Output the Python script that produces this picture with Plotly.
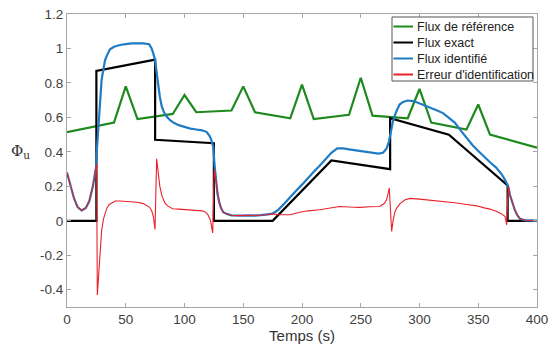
import plotly.graph_objects as go

# ---------------- data ----------------
green_t = [0, 40, 50, 60, 90, 100, 110, 140, 150, 160, 190, 200, 210, 240, 250, 260, 290, 300, 310, 340, 350, 360, 400]
green_v = [0.515, 0.57, 0.78, 0.59, 0.62, 0.73, 0.63, 0.64, 0.78, 0.63, 0.595, 0.79, 0.59, 0.615, 0.83, 0.61, 0.595, 0.765, 0.57, 0.53, 0.675, 0.50, 0.425]

black_t = [0, 25, 25, 75, 75, 125, 125, 175, 225, 275, 275, 325, 375, 375, 400]
black_v = [0, 0, 0.87, 0.935, 0.47, 0.45, 0, 0, 0.35, 0.30, 0.595, 0.50, 0.205, 0, 0]

blue_t = [0, 3, 6, 9, 12.5, 16, 19, 22, 24.7, 25.5, 26.6, 27.5, 28.5, 29.5, 31, 32.3, 34, 36.6, 40, 45, 50, 55,
          60, 65, 70, 72, 73.5, 75, 76.5, 77.7, 79, 80.6, 82.5, 84.8, 87.5, 90.5, 95, 100, 105, 110, 115, 119,
          121.5, 123, 124.5, 125.5, 126.5, 128, 129.5, 131, 133, 136, 140, 145, 150, 155, 160, 165, 170, 174,
          177, 180, 185, 190, 195, 200, 205, 210, 215, 220, 225, 230, 235, 240, 245, 250, 255, 260, 265, 269,
          272, 274, 275.5, 277.5, 280, 283, 286, 290, 295, 300, 305, 310, 315, 320, 325, 330, 335, 340, 345,
          350, 355, 360, 365, 370, 373, 375.5, 377, 379, 381, 383, 385.5, 390, 395, 400]
blue_v = [0.28, 0.2, 0.13, 0.08, 0.06, 0.075, 0.115, 0.2, 0.31, 0.42, 0.53, 0.66, 0.75, 0.82, 0.88, 0.93, 0.96, 0.995,
          1.01, 1.02, 1.025, 1.03, 1.03, 1.03, 1.025, 1.0, 0.97, 0.93, 0.85, 0.78, 0.72, 0.665, 0.63, 0.605, 0.585,
          0.57, 0.555, 0.545, 0.535, 0.53, 0.525, 0.515, 0.49, 0.465, 0.43, 0.33, 0.25, 0.16, 0.11, 0.075, 0.05,
          0.04, 0.032, 0.03, 0.03, 0.032, 0.03, 0.033, 0.035, 0.04, 0.05, 0.065, 0.1, 0.14, 0.175, 0.21, 0.25,
          0.285, 0.32, 0.36, 0.395, 0.42, 0.42, 0.415, 0.41, 0.405, 0.4, 0.395, 0.39, 0.395, 0.42, 0.46, 0.51,
          0.58, 0.63, 0.675, 0.69, 0.698, 0.695, 0.682, 0.67, 0.655, 0.64, 0.625, 0.6, 0.57, 0.525, 0.48, 0.44,
          0.405, 0.37, 0.34, 0.31, 0.27, 0.235, 0.2, 0.15, 0.1, 0.065, 0.035, 0.012, 0.003, 0, 0]

red_t = [0, 3, 6, 9, 12.5, 16, 19, 22, 24.7, 25.2, 25.8, 26.5, 27.5, 28.5, 29.5, 31, 32.5, 34, 36, 38, 41, 45, 50,
         55, 60, 65, 68, 70, 72, 73.5, 74.9, 75.5, 76.3, 77.5, 79, 81, 83.4, 86, 90, 95, 100, 105, 110, 115, 118,
         120, 122, 124, 125.3, 126.5, 128, 129.5, 131, 133, 136, 140, 145, 150, 155, 160, 165, 170, 175, 180, 190,
         198, 205, 215, 225, 232, 240, 249, 258, 266, 270, 272, 274.3, 275.2, 276.3, 277.5, 279, 280.6, 283.4,
         287.7, 292, 300, 310, 320, 330, 340, 348.7, 355, 360, 365.7, 370, 372.8, 374.2, 375.2, 375.6, 377, 379,
         381, 383, 385.5, 390, 395, 400]
red_v = [0.28, 0.2, 0.13, 0.08, 0.06, 0.075, 0.115, 0.2, 0.31, 0.33, -0.43, -0.35, -0.23, -0.13, -0.055, 0.01, 0.05,
         0.075, 0.095, 0.105, 0.115, 0.115, 0.112, 0.11, 0.108, 0.1, 0.09, 0.08, 0.06, 0.025, -0.05, 0.1, 0.36,
         0.29, 0.2, 0.14, 0.103, 0.085, 0.07, 0.068, 0.065, 0.065, 0.063, 0.058, 0.05, 0.035, 0.005, -0.07, 0.3,
         0.24, 0.16, 0.11, 0.075, 0.05, 0.04, 0.032, 0.03, 0.03, 0.032, 0.03, 0.033, 0.035, 0.04, 0.035, 0.035,
         0.05, 0.058, 0.064, 0.075, 0.083, 0.08, 0.078, 0.082, 0.083, 0.1, 0.122, 0.19, 0.05, -0.062, 0.0, 0.05,
         0.074, 0.1, 0.122, 0.13, 0.126, 0.12, 0.112, 0.105, 0.095, 0.087, 0.075, 0.068, 0.054, 0.04, 0.025,
         -0.023, 0.15, 0.2, 0.15, 0.1, 0.065, 0.035, 0.012, 0.003, 0, 0]

series_names = ["Flux de référence", "Flux exact", "Flux identifié", "Erreur d'identification"]
series_colors = ["#1e8a1e", "#000000", "#1f7cc4", "#e8212a"]
series_widths = [2.2, 2.2, 2.2, 1.1]

x_ticks = [0, 50, 100, 150, 200, 250, 300, 350, 400]
y_ticks = [-0.4, -0.2, 0, 0.2, 0.4, 0.6, 0.8, 1.0, 1.2]
y_tick_labels = ["-0.4", "-0.2", "0", "0.2", "0.4", "0.6", "0.8", "1", "1.2"]

# ---------------- figure ----------------
fig = go.Figure()
for (tx, vy), name, col, w in zip([(green_t, green_v), (black_t, black_v), (blue_t, blue_v), (red_t, red_v)],
                                  series_names, series_colors, series_widths):
    fig.add_trace(go.Scatter(x=tx, y=vy, mode="lines", name=name, showlegend=False,
                             line=dict(color=col, width=w)))

axis_common = dict(showgrid=False, zeroline=False, showline=True, linecolor="#a6a6a6", linewidth=1,
                   mirror="ticks", ticks="inside", ticklen=4, tickcolor="#a6a6a6",
                   ticklabeloverflow="allow",
                   tickfont=dict(size=13.5, color="#404040"))

fig.update_xaxes(range=[0, 400], tickvals=x_ticks, **axis_common,
                 title=dict(text="Temps (s)", font=dict(size=15, color="#333333"), standoff=3))
fig.update_yaxes(range=[-0.5, 1.2], tickvals=y_ticks, ticktext=y_tick_labels, **axis_common)

fig.add_annotation(text="Φ<sub>u</sub>", xref="paper", yref="y", x=-0.1, y=0.4,
                   showarrow=False, xanchor="center", yanchor="middle",
                   font=dict(family="DejaVu Serif, Liberation Serif, serif", size=15, color="#333333"))

# ---- compact legend box (MATLAB style) ----
box_x0, box_x1, box_y0, box_y1 = 0.6915, 0.9915, 0.7713, 0.9898
fig.add_shape(type="rect", xref="paper", yref="paper", x0=box_x0, x1=box_x1, y0=box_y0, y1=box_y1,
              fillcolor="white", line=dict(color="#555555", width=1), layer="above")
row_y = [0.9573, 0.9027, 0.8481, 0.7935]
for name, col, yy in zip(series_names, series_colors, row_y):
    fig.add_shape(type="line", xref="paper", yref="paper", x0=0.6945, x1=0.7362, y0=yy, y1=yy,
                  line=dict(color=col, width=2), layer="above")
    fig.add_annotation(text=name, xref="paper", yref="paper", x=0.7404, y=yy, showarrow=False,
                       xanchor="left", yanchor="middle",
                       font=dict(family="Arial, Liberation Sans, sans-serif", size=12.5, color="#222222"))

fig.update_layout(
    width=550, height=351,
    margin=dict(l=67, r=13, t=14, b=44, autoexpand=False),
    plot_bgcolor="white", paper_bgcolor="white",
    font=dict(family="Arial, Liberation Sans, sans-serif", size=13, color="#404040"),
    showlegend=False,
)

# remove the browser's default 8px body margin so the 550x351 figure fills the window exactly
fig.write_html("out.html", config={"displayModeBar": False},
               post_script="document.body.style.margin='0';document.body.style.overflow='hidden';")
